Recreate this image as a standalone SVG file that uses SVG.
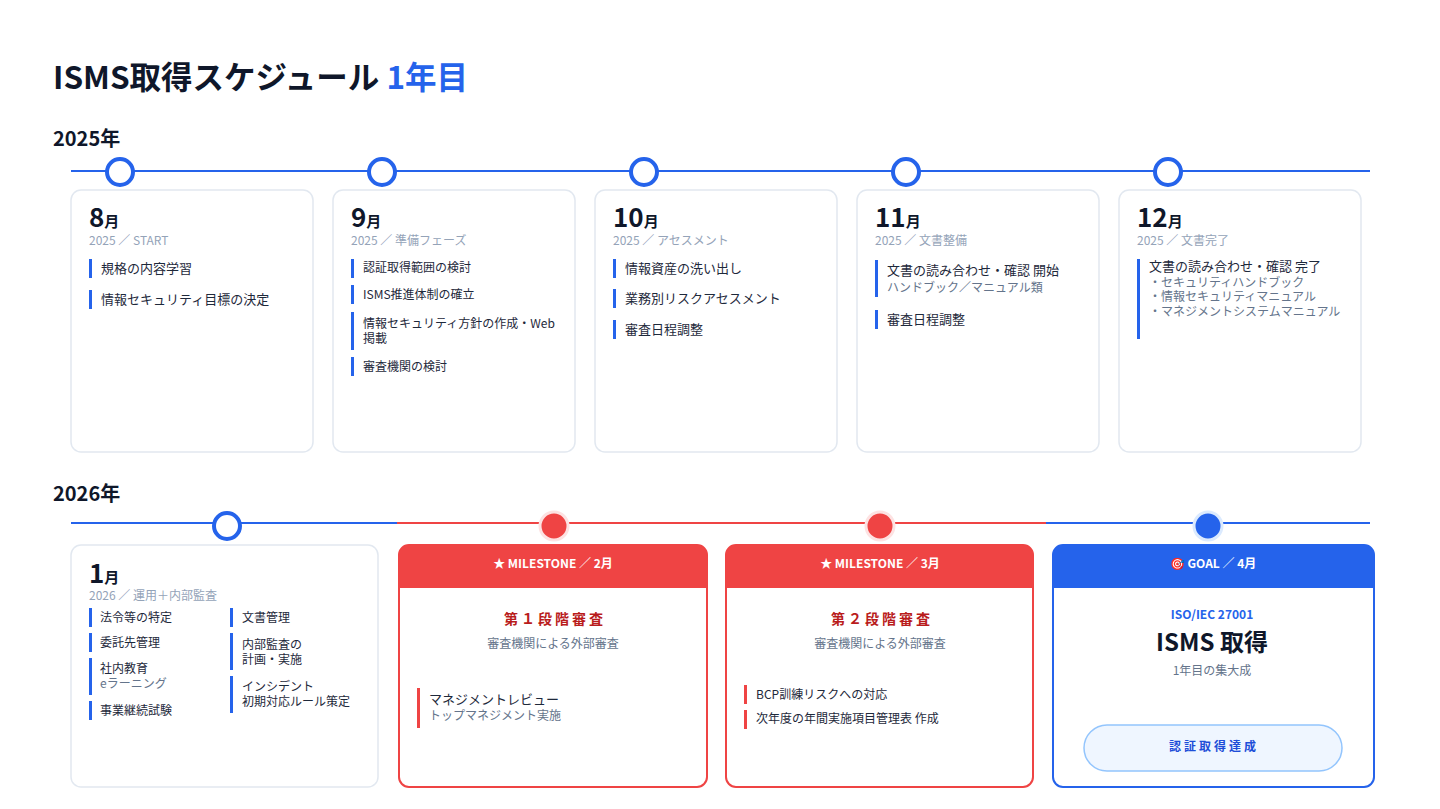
<svg xmlns="http://www.w3.org/2000/svg" width="1440" height="809" viewBox="0 0 1440 809">
<style>
text{font-family:"Noto Sans CJK JP","Noto Sans",sans-serif}
.card{fill:#fff;stroke:#e2e8f0;stroke-width:1.5}
.mon{font-size:26px;font-weight:700;fill:#0f172a}
.mon tspan{font-size:15px}
.sub{font-size:12px;fill:#94a3b8}
.it{font-size:13px;fill:#1e293b}
.its{font-size:12px;fill:#1e293b}
.g{font-size:12px;fill:#64748b}
.bb{fill:#2563eb}
.rb{fill:#ef4444}
.hd{font-size:12px;font-weight:700;fill:#fff}
.rt{font-size:14px;font-weight:700;fill:#b91c1c;letter-spacing:3px}
</style>
<rect width="1440" height="809" fill="#fff"/>
<text x="53" y="89" font-size="31.5" font-weight="700" fill="#0f172a">ISMS取得スケジュール <tspan fill="#2563eb">1年目</tspan></text>
<text x="53" y="146" font-size="20" font-weight="700" fill="#0f172a">2025年</text>
<text x="53" y="501" font-size="20" font-weight="700" fill="#0f172a">2026年</text>
<g id="connectors">
<line x1="71" y1="171" x2="1370" y2="171" stroke="#2563eb" stroke-width="2"/>
<line x1="71" y1="523" x2="397" y2="523" stroke="#2563eb" stroke-width="2"/>
<line x1="397" y1="523" x2="1046" y2="523" stroke="#ef4444" stroke-width="2"/>
<line x1="1046" y1="523" x2="1370" y2="523" stroke="#2563eb" stroke-width="2"/>
<g fill="#fff" stroke="#2563eb" stroke-width="4">
<circle cx="120" cy="172" r="13"/><circle cx="382" cy="172" r="13"/><circle cx="644" cy="172" r="13"/><circle cx="906" cy="172" r="13"/><circle cx="1168" cy="172" r="13"/><circle cx="227" cy="526" r="13"/>
</g>
<circle cx="554" cy="526" r="14" fill="#ef4444" stroke="#fde2e2" stroke-width="3"/>
<circle cx="880" cy="526" r="14" fill="#ef4444" stroke="#fde2e2" stroke-width="3"/>
<circle cx="1208" cy="526" r="14" fill="#2563eb" stroke="#dbeafe" stroke-width="3"/>
</g>
<g id="aug">
<rect class="card" x="71" y="190" width="242" height="262" rx="10"/>
<text class="mon" x="89" y="227">8<tspan>月</tspan></text>
<text class="sub" x="89" y="245">2025 ／ START</text>
<rect class="bb" x="89" y="259" width="3" height="19"/><text class="it" x="101" y="273">規格の内容学習</text>
<rect class="bb" x="89" y="290" width="3" height="19"/><text class="it" x="101" y="304">情報セキュリティ目標の決定</text>
</g>
<g id="sep">
<rect class="card" x="333" y="190" width="242" height="262" rx="10"/>
<text class="mon" x="351" y="227">9<tspan>月</tspan></text>
<text class="sub" x="351" y="245">2025 ／ 準備フェーズ</text>
<rect class="bb" x="351" y="259" width="3" height="19"/><text class="its" x="363" y="272">認証取得範囲の検討</text>
<rect class="bb" x="351" y="285" width="3" height="19"/><text class="its" x="363" y="299">ISMS推進体制の確立</text>
<rect class="bb" x="351" y="312" width="3" height="38"/><text class="its" x="363" y="328">情報セキュリティ方針の作成・Web</text><text class="its" x="363" y="343">掲載</text>
<rect class="bb" x="351" y="357" width="3" height="19"/><text class="its" x="363" y="371">審査機関の検討</text>
</g>
<g id="oct">
<rect class="card" x="595" y="190" width="242" height="262" rx="10"/>
<text class="mon" x="613" y="227">10<tspan>月</tspan></text>
<text class="sub" x="613" y="245">2025 ／ アセスメント</text>
<rect class="bb" x="613" y="259" width="3" height="19"/><text class="it" x="625" y="273">情報資産の洗い出し</text>
<rect class="bb" x="613" y="289" width="3" height="19"/><text class="it" x="625" y="303">業務別リスクアセスメント</text>
<rect class="bb" x="613" y="320" width="3" height="19"/><text class="it" x="625" y="334">審査日程調整</text>
</g>
<g id="nov">
<rect class="card" x="857" y="190" width="242" height="262" rx="10"/>
<text class="mon" x="875" y="227">11<tspan>月</tspan></text>
<text class="sub" x="875" y="245">2025 ／ 文書整備</text>
<rect class="bb" x="875" y="260" width="3" height="37"/><text class="it" x="887" y="275">文書の読み合わせ・確認 開始</text><text class="g" x="887" y="292">ハンドブック／マニュアル類</text>
<rect class="bb" x="875" y="310" width="3" height="19"/><text class="it" x="887" y="324">審査日程調整</text>
</g>
<g id="dec">
<rect class="card" x="1119" y="190" width="242" height="262" rx="10"/>
<text class="mon" x="1137" y="227">12<tspan>月</tspan></text>
<text class="sub" x="1137" y="245">2025 ／ 文書完了</text>
<rect class="bb" x="1137" y="259" width="3" height="80"/><text class="it" x="1149" y="271">文書の読み合わせ・確認 完了</text>
<text class="g" x="1149" y="287">・セキュリティハンドブック</text>
<text class="g" x="1149" y="301">・情報セキュリティマニュアル</text>
<text class="g" x="1149" y="316">・マネジメントシステムマニュアル</text>
</g>
<g id="jan">
<rect class="card" x="71" y="545" width="307" height="242" rx="10"/>
<text class="mon" x="89" y="583">1<tspan>月</tspan></text>
<text class="sub" x="89" y="600">2026 ／ 運用＋内部監査</text>
<rect class="bb" x="89" y="608" width="3" height="19"/><text class="its" x="100" y="622">法令等の特定</text>
<rect class="bb" x="89" y="633" width="3" height="19"/><text class="its" x="100" y="647">委託先管理</text>
<rect class="bb" x="89" y="658" width="3" height="37"/><text class="its" x="100" y="673">社内教育</text><text class="g" x="100" y="688">eラーニング</text>
<rect class="bb" x="89" y="701" width="3" height="19"/><text class="its" x="100" y="715">事業継続試験</text>
<rect class="bb" x="230" y="608" width="3" height="19"/><text class="its" x="242" y="622">文書管理</text>
<rect class="bb" x="230" y="633" width="3" height="37"/><text class="its" x="242" y="649">内部監査の</text><text class="its" x="242" y="664">計画・実施</text>
<rect class="bb" x="230" y="676" width="3" height="37"/><text class="its" x="242" y="691">インシデント</text><text class="its" x="242" y="706">初期対応ルール策定</text>
</g>
<g id="feb">
<rect x="399" y="545" width="308" height="242" rx="10" fill="#fff" stroke="#ef4444" stroke-width="2"/>
<path d="M409 545 H697 A10 10 0 0 1 707 555 V588 H399 V555 A10 10 0 0 1 409 545 Z" class="rb"/>
<text class="hd" x="553" y="568" text-anchor="middle">★ MILESTONE ／ 2月</text>
<text class="rt" x="555" y="624" text-anchor="middle">第１段階審査</text>
<text class="g" x="553" y="648" text-anchor="middle">審査機関による外部審査</text>
<rect class="rb" x="417" y="688" width="3" height="40"/>
<text class="it" x="429" y="704">マネジメントレビュー</text>
<text class="g" x="429" y="720">トップマネジメント実施</text>
</g>
<g id="mar">
<rect x="726" y="545" width="307" height="242" rx="10" fill="#fff" stroke="#ef4444" stroke-width="2"/>
<path d="M736 545 H1023 A10 10 0 0 1 1033 555 V588 H726 V555 A10 10 0 0 1 736 545 Z" class="rb"/>
<text class="hd" x="880" y="568" text-anchor="middle">★ MILESTONE ／ 3月</text>
<text class="rt" x="882" y="624" text-anchor="middle">第２段階審査</text>
<text class="g" x="880" y="648" text-anchor="middle">審査機関による外部審査</text>
<rect class="rb" x="744" y="685" width="3" height="19"/><text class="its" x="756" y="699">BCP訓練リスクへの対応</text>
<rect class="rb" x="744" y="710" width="3" height="19"/><text class="its" x="756" y="723">次年度の年間実施項目管理表 作成</text>
</g>
<g id="apr">
<rect x="1053" y="545" width="321" height="242" rx="10" fill="#fff" stroke="#2563eb" stroke-width="2"/>
<path d="M1063 545 H1364 A10 10 0 0 1 1374 555 V588 H1053 V555 A10 10 0 0 1 1063 545 Z" class="bb"/>
<text class="hd" x="1213" y="568" text-anchor="middle">🎯 GOAL ／ 4月</text>
<text x="1212" y="619" text-anchor="middle" font-size="12" font-weight="700" fill="#2563eb">ISO/IEC 27001</text>
<text x="1212" y="651" text-anchor="middle" font-size="24" font-weight="700" fill="#0f172a">ISMS 取得</text>
<text class="g" x="1212" y="675" text-anchor="middle">1年目の集大成</text>
<rect x="1084" y="725" width="258" height="46" rx="23" fill="#eff6ff" stroke="#93c5fd" stroke-width="1.5"/>
<text x="1214" y="751" text-anchor="middle" font-size="12" font-weight="700" fill="#1d4ed8" letter-spacing="3">認証取得達成</text>
</g>
</svg>
